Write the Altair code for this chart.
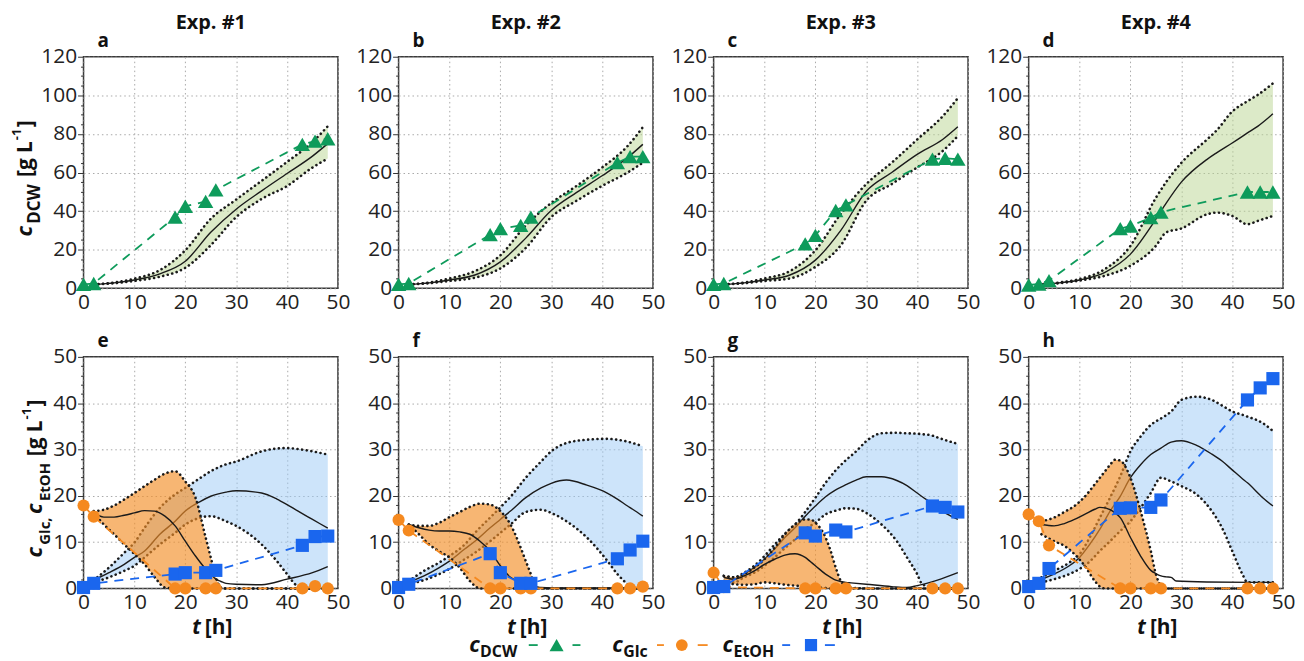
import altair as alt
import pandas as pd

# ---------------- measured data ----------------
T_MEAS_1 = [0, 2, 18, 20, 24, 26, 43, 45.5, 48]
T_MEAS_4 = [0, 2, 4, 18, 20, 24, 26, 43, 45.5, 48]

DCW_MEAS_1 = [2.0, 2.5, 36.9, 42.5, 45.0, 51.0, 74.6, 76.3, 77.5]
DCW_MEAS_2 = [2.0, 2.5, 27.8, 30.9, 32.6, 36.9, 65.1, 68.2, 68.2]
DCW_MEAS_3 = [2.0, 2.5, 23.0, 27.4, 40.3, 43.2, 66.9, 67.4, 66.9]
DCW_MEAS_4 = [1.7, 2.2, 4.0, 30.9, 32.3, 36.6, 39.5, 49.9, 49.9, 49.9]

GLC_MEAS_1 = [17.9, 15.5, 0.0, 0.0, 0.0, 0.0, 0.0, 0.5, 0.0]
GLC_MEAS_2 = [14.8, 12.5, 0.0, 0.0, 0.0, 0.0, 0.0, 0.0, 0.4]
GLC_MEAS_3 = [3.4, 0.3, 0.0, 0.0, 0.0, 0.0, 0.0, 0.0, 0.0]
GLC_MEAS_4 = [16.0, 14.5, 9.3, 0.0, 0.0, 0.0, 0.0, 0.0, 0.0, 0.0]

ETOH_MEAS_1 = [0.2, 1.1, 3.1, 3.4, 3.4, 3.9, 9.3, 11.2, 11.3]
ETOH_MEAS_2 = [0.2, 0.9, 7.5, 3.4, 1.1, 1.1, 6.4, 8.3, 10.2]
ETOH_MEAS_3 = [0.2, 0.4, 12.0, 11.3, 12.6, 12.2, 17.8, 17.5, 16.5]
ETOH_MEAS_4 = [0.4, 1.1, 4.3, 17.3, 17.4, 17.5, 19.1, 40.7, 43.3, 45.3]

# ---------------- model (mean and band) ----------------
T_DCW_1 = [2, 6, 10, 15, 20, 25, 30, 35, 40, 45, 48]
DCW_LO_1 = [2.0, 2.6, 3.8, 6.0, 10.6, 22.3, 36.9, 46.3, 53.0, 62.6, 67.2]
DCW_MEAN_1 = [2.0, 2.8, 4.3, 7.5, 14.0, 29.0, 41.0, 50.5, 59.5, 68.5, 75.0]
DCW_HI_1 = [2.0, 3.0, 5.0, 9.4, 19.7, 36.0, 46.0, 55.7, 65.5, 75.8, 84.0]

T_DCW_2 = [2, 6, 10, 15, 20, 25, 30, 35, 40, 45, 48]
DCW_LO_2 = [2.0, 2.6, 3.8, 5.5, 10.3, 20.9, 36.9, 45.4, 53.1, 60.0, 65.1]
DCW_MEAN_2 = [2.0, 2.8, 4.3, 6.9, 13.7, 26.0, 40.3, 49.7, 58.3, 67.7, 74.6]
DCW_HI_2 = [2.0, 3.0, 5.1, 8.9, 17.1, 32.6, 44.2, 53.1, 62.6, 73.7, 83.5]

T_DCW_3 = [2, 6, 10, 15, 20, 25, 30, 35, 40, 45, 48]
DCW_LO_3 = [2.0, 2.6, 3.8, 5.1, 11.1, 22.3, 45.4, 54.0, 62.6, 71.1, 78.9]
DCW_MEAN_3 = [2.0, 2.8, 4.3, 6.9, 14.6, 30.0, 50.3, 60.0, 69.4, 77.1, 83.7]
DCW_HI_3 = [2.0, 3.0, 5.1, 8.9, 19.7, 38.6, 54.0, 65.1, 77.1, 89.1, 98.6]

T_DCW_4 = [2, 6, 10, 15, 20, 25, 27, 30, 35, 37, 40, 43, 45, 48]
DCW_LO_4 = [2.0, 2.6, 4.0, 6.5, 11.7, 22.0, 28.9, 31.0, 38.3, 39.2, 37.5, 33.2, 34.9, 37.5]
DCW_MEAN_4 = [2.0, 2.8, 4.3, 8.3, 17.7, 35.8, 44.0, 55.0, 66.7, 70.3, 75.3, 80.5, 83.9, 90.4]
DCW_HI_4 = [2.0, 3.0, 4.8, 10.0, 22.0, 46.9, 55.0, 65.0, 77.0, 82.0, 91.6, 97.0, 100.2, 106.2]

T_GLC_1 = [2, 4, 6, 8, 10, 12, 14, 16, 18, 20, 22, 24, 25, 26, 27, 28, 30, 35, 40, 45, 48]
GLC_LO_1 = [16.3, 13.8, 11.7, 9.5, 7.4, 5.2, 2.4, 0.2, 0, 0, 0, 0, 0, 0, 0, 0, 0, 0, 0, 0, 0]
GLC_MEAN_1 = [16.3, 15.4, 15.4, 15.8, 16.3, 16.8, 16.7, 15.6, 13.5, 10.2, 7.0, 4.2, 3.1, 2.0, 1.5, 1.1, 0.9, 0.8, 2.0, 3.4, 4.7]
GLC_HI_1 = [16.7, 17.0, 17.9, 19.2, 20.6, 22.1, 23.5, 24.8, 25.3, 23.1, 19.6, 11.0, 6.7, 2.4, 0.2, 0, 0, 0, 0, 0, 0]

T_ETOH_1 = [2, 5, 8, 10, 12, 15, 18, 20, 23, 25, 28, 30, 35, 38, 40, 42, 45, 48]
ETOH_LO_1 = [1.3, 2.4, 3.8, 4.9, 6.7, 9.5, 12.0, 13.8, 15.3, 15.6, 14.5, 13.5, 9.5, 5.9, 3.1, 0.6, 0, 0]
ETOH_MEAN_1 = [1.8, 3.4, 5.2, 6.7, 8.1, 11.7, 14.5, 16.7, 18.8, 19.9, 20.8, 21.1, 20.6, 19.3, 18.1, 16.8, 14.9, 13.0]
ETOH_HI_1 = [1.8, 4.5, 7.7, 9.9, 13.1, 17.4, 20.3, 21.7, 23.9, 25.3, 26.8, 27.4, 29.6, 30.2, 30.3, 30.1, 29.6, 28.9]

T_GLC_2 = [2, 4, 6, 8, 10, 12, 14, 16, 18, 20, 22, 24, 25, 26, 27, 28, 30, 35, 40, 48]
GLC_LO_2 = [13.8, 11.7, 9.5, 8.0, 6.7, 4.5, 1.6, 0, 0, 0, 0, 0, 0, 0, 0, 0, 0, 0, 0, 0]
GLC_MEAN_2 = [13.8, 13.1, 12.6, 12.4, 12.4, 12.2, 11.7, 10.2, 8.1, 4.9, 2.4, 1.3, 0.9, 0.6, 0.4, 0.2, 0.1, 0.1, 0.1, 0.1]
GLC_HI_2 = [13.8, 13.5, 13.5, 14.2, 15.4, 16.5, 17.6, 18.3, 18.1, 16.7, 13.8, 8.8, 5.9, 3.1, 0.2, 0, 0, 0, 0, 0]

T_ETOH_2 = [2, 5, 8, 10, 13, 15, 18, 20, 22, 25, 28, 30, 33, 37, 41, 43, 45, 46, 48]
ETOH_LO_2 = [0.9, 1.8, 3.1, 4.2, 6.3, 7.7, 10.2, 12.0, 13.8, 16.5, 17.0, 16.3, 14.5, 11.0, 6.0, 3.1, 0.9, 0, 0]
ETOH_MEAN_2 = [1.3, 2.7, 4.5, 5.9, 8.5, 10.2, 13.1, 14.9, 16.7, 19.6, 21.7, 22.7, 23.4, 22.3, 20.6, 19.3, 17.8, 17.1, 15.6]
ETOH_HI_2 = [1.6, 3.8, 5.6, 7.0, 9.5, 12.0, 15.3, 17.5, 19.8, 23.9, 27.4, 29.6, 31.4, 32.1, 32.3, 32.1, 31.7, 31.4, 30.7]

T_GLC_3 = [2, 4, 6, 8, 10, 12, 14, 16, 18, 19, 20, 22, 23, 24, 25, 26, 27, 30, 35, 38, 40, 44, 48]
GLC_LO_3 = [1.6, 0.9, 0.8, 0.9, 1.3, 1.1, 0.8, 0.6, 0.4, 0.3, 0.2, 0.1, 0, 0, 0, 0, 0, 0, 0, 0, 0, 0, 0]
GLC_MEAN_3 = [2.4, 2.0, 2.7, 3.8, 5.2, 6.3, 7.2, 7.5, 6.7, 5.8, 4.9, 3.1, 2.4, 1.8, 1.5, 1.3, 1.2, 0.9, 0.4, 0.2, 0.6, 1.8, 3.4]
GLC_HI_3 = [2.7, 2.4, 3.1, 4.5, 6.3, 8.8, 11.7, 13.8, 14.9, 14.9, 14.2, 11.0, 8.1, 4.5, 1.6, 0.6, 0.2, 0, 0, 0, 0, 0, 0]

T_ETOH_3 = [2, 4, 6, 8, 10, 12, 14, 16, 18, 20, 22, 24, 26, 28, 30, 33, 36, 38, 40, 41, 43, 44, 48]
ETOH_LO_3 = [1.3, 1.3, 2.4, 3.4, 4.9, 6.7, 8.7, 10.6, 12.8, 14.2, 16.0, 16.8, 17.3, 17.2, 16.3, 13.8, 10.2, 6.7, 3.1, 0.9, 0.2, 0, 0]
ETOH_MEAN_3 = [2.4, 2.0, 3.1, 4.5, 6.3, 8.5, 11.0, 13.1, 15.6, 17.8, 19.8, 21.3, 22.4, 23.4, 24.1, 24.1, 23.3, 22.2, 20.6, 19.8, 18.3, 17.4, 14.9]
ETOH_HI_3 = [2.7, 2.4, 3.4, 4.9, 7.0, 9.5, 11.8, 13.8, 16.5, 19.6, 22.8, 25.5, 27.7, 29.6, 31.8, 33.5, 33.6, 33.5, 33.4, 33.3, 33.0, 32.6, 31.2]

T_GLC_4 = [2.5, 5, 7, 9, 11, 13, 14, 15, 16, 17, 18, 20, 22, 24, 25, 26, 27, 28, 29, 35, 48]
GLC_LO_4 = [11.7, 10.2, 9.2, 7.4, 4.9, 1.6, 0.4, 0, 0, 0, 0, 0, 0, 0, 0, 0, 0, 0, 0, 0, 0]
GLC_MEAN_4 = [13.8, 13.5, 14.0, 14.9, 16.0, 17.1, 17.5, 17.4, 17.0, 16.3, 15.3, 11.0, 7.0, 3.9, 3.2, 2.7, 2.5, 2.4, 1.6, 1.4, 1.3]
GLC_HI_4 = [14.5, 15.3, 16.5, 17.8, 19.8, 22.5, 23.9, 25.3, 26.7, 27.8, 27.6, 23.9, 16.7, 8.1, 3.1, 0.6, 0, 0, 0, 0, 0]

T_ETOH_4 = [2.5, 5, 8, 10, 12, 14, 16, 18, 20, 22, 24, 26, 28, 30, 33, 36, 38, 40, 42, 43, 46, 48]
ETOH_LO_4 = [1.3, 2.0, 3.1, 4.2, 5.8, 8.1, 10.2, 12.4, 14.5, 17.4, 20.6, 23.9, 23.1, 22.1, 20.3, 16.7, 13.1, 8.1, 3.1, 1.3, 1.3, 1.3]
ETOH_MEAN_4 = [2.0, 3.1, 4.9, 6.7, 9.5, 12.8, 16.7, 19.9, 23.9, 26.7, 28.9, 30.3, 31.6, 31.9, 30.9, 29.0, 27.5, 25.6, 23.7, 22.8, 19.6, 17.8]
ETOH_HI_4 = [2.4, 3.8, 5.6, 7.4, 11.0, 15.3, 19.6, 24.2, 29.6, 32.8, 35.3, 36.7, 38.2, 40.7, 41.4, 40.7, 39.5, 38.2, 37.5, 37.1, 35.7, 34.0]

# ---------------- labels / ticks ----------------
EXP_TITLES = ["Exp. #1", "Exp. #2", "Exp. #3", "Exp. #4"]
TOP_LETTERS = ["a", "b", "c", "d"]
BOT_LETTERS = ["e", "f", "g", "h"]
X_TICKS = [0, 10, 20, 30, 40, 50]
Y_TOP_TICKS = list(range(0, 121, 5))
Y_BOT_TICKS = list(range(0, 51, 2))

# ---------------- style ----------------
W, H = 256, 233
FONT = "Open Sans"
GREEN = "#0e9b5b"
ORANGE = "#f5891f"
BLUE = "#1a66ee"
GREEN_FILL = "#b9d591"
BLUE_FILL = "#9bc9f5"
ORANGE_FILL = "#f38f28"
INK = "#1a1a1a"
DOT = [0.1, 4.6]
GRID = "#a8a8a8"
LBL = 21
ONE = pd.DataFrame({"k": [0]})

XSCALE = alt.Scale(domain=[0, 50], nice=False)


def xaxis():
    return alt.Axis(values=X_TICKS, title=None, grid=True, gridDash=[1.5, 3], gridColor=GRID,
                    ticks=False, domain=False, labelFontSize=LBL, labelPadding=3,
                    labelFlush=False, labelOverlap=False, labelColor="#222")


def yaxis(ticks, major):
    test = f"datum.value % {major} === 0"
    return alt.Axis(values=ticks, title=None, grid=True, gridDash=[1.5, 3], gridColor=GRID,
                    gridOpacity={"condition": {"test": test, "value": 1}, "value": 0},
                    tickSize={"condition": {"test": test, "value": 6}, "value": 3},
                    tickColor="#333", domain=False, labelFontSize=LBL, labelPadding=1,
                    labelExpr=f"{test} ? datum.label : ''",
                    labelFlush=False, labelOverlap=False, labelColor="#222")


def enc_x():
    return alt.X("t:Q", scale=XSCALE, axis=xaxis())


def enc_y(field, ymax, ticks, major):
    return alt.Y(f"{field}:Q", scale=alt.Scale(domain=[0, ymax], nice=False), axis=yaxis(ticks, major))


def txt(s, x, y, size, style="normal", angle=0, align="left"):
    return alt.Chart(ONE).mark_text(text=s, fontSize=size, fontStyle=style, fontWeight="bold",
                                    angle=angle, align=align, baseline="alphabetic",
                                    font=FONT, color="#111").encode(x=alt.value(x), y=alt.value(y))


def dash(x1, x2, y, color):
    return alt.Chart(ONE).mark_rule(color=color, strokeWidth=1.8).encode(
        x=alt.value(x1), x2=alt.value(x2), y=alt.value(y))


def sym(x, y, shape, size, color):
    return alt.Chart(ONE).mark_point(shape=shape, filled=True, size=size, color=color, opacity=1).encode(
        x=alt.value(x), y=alt.value(y))


def band_layers(t, lo, mean, hi, fill, fill_op, ymax, ticks, major):
    df = pd.DataFrame({"t": t, "lo": lo, "mean": mean, "hi": hi})
    base = alt.Chart(df)
    area = base.mark_area(color=fill, opacity=fill_op, interpolate="monotone").encode(
        x=enc_x(), y=enc_y("lo", ymax, ticks, major), y2="hi:Q")
    lines = []
    for f in ["lo", "hi"]:
        lines.append(base.mark_line(color=INK, strokeDash=DOT, strokeWidth=2.6, strokeCap="round",
                                    interpolate="monotone").encode(x=enc_x(), y=enc_y(f, ymax, ticks, major)))
    mean_line = base.mark_line(color=INK, strokeWidth=1.4, interpolate="monotone").encode(
        x=enc_x(), y=enc_y("mean", ymax, ticks, major))
    return [area] + lines + [mean_line]


def meas_layers(t, v, color, shape, size, ymax, ticks, major):
    df = pd.DataFrame({"t": t, "v": v})
    base = alt.Chart(df)
    line = base.mark_line(color=color, strokeDash=[9, 7], strokeWidth=1.8).encode(
        x=enc_x(), y=enc_y("v", ymax, ticks, major))
    pts = base.mark_point(shape=shape, filled=True, size=size, color=color, opacity=1).encode(
        x=enc_x(), y=enc_y("v", ymax, ticks, major))
    return [line, pts]


# legend pieces (drawn below panels f and g, positions relative to those plot areas)
LY = H + 57      # marker row
LT = H + 64      # main letter baseline
LS = H + 69      # subscript baseline


def legend_f():
    return [
        txt("c", 71, LT, 22, style="italic"), txt("DCW", 82, LS, 16),
        dash(131, 140, LY, GREEN), sym(159, LY, "triangle-up", 200, GREEN), dash(175, 183, LY, GREEN),
        txt("c", 215, LT, 22, style="italic"), txt("Glc", 226, LS, 16),
        dash(260, 267, LY, ORANGE),
    ]


def legend_g():
    return [
        sym(-32, LY, "circle", 140, ORANGE), dash(-16, -6, LY, ORANGE),
        txt("c", 9, LT, 22, style="italic"), txt("EtOH", 20, LS, 16),
        dash(69, 77, LY, BLUE), sym(98, LY, "square", 150, BLUE), dash(112, 122, LY, BLUE),
    ]


def top_panel(i, t_meas, dcw, t_mod, lo, mean, hi):
    layers = band_layers(t_mod, lo, mean, hi, GREEN_FILL, 0.5, 120, Y_TOP_TICKS, 20)
    layers += meas_layers(t_meas, dcw, GREEN, "triangle-up", 240, 120, Y_TOP_TICKS, 20)
    layers.append(txt(EXP_TITLES[i], W / 2, -28, 20, align="center"))
    layers.append(txt(TOP_LETTERS[i], 14, -10, 19))
    if i == 0:
        layers += [
            txt("c", -52, 181, 22, style="italic", angle=270),
            txt("DCW", -44, 168, 17, angle=270),
            txt("[g L", -52, 121, 21, angle=270),
            txt("-1", -63, 84, 13, angle=270),
            txt("]", -52, 71, 21, angle=270),
        ]
    return alt.layer(*layers).properties(width=W, height=H)


def bottom_panel(i, t_meas, glc, etoh, tg, glo, gmean, ghi, te, elo, emean, ehi):
    layers = band_layers(te, elo, emean, ehi, BLUE_FILL, 0.5, 50, Y_BOT_TICKS, 10)
    layers += band_layers(tg, glo, gmean, ghi, ORANGE_FILL, 0.65, 50, Y_BOT_TICKS, 10)
    layers += meas_layers(t_meas, glc, ORANGE, "circle", 150, 50, Y_BOT_TICKS, 10)
    layers += meas_layers(t_meas, etoh, BLUE, "square", 175, 50, Y_BOT_TICKS, 10)
    layers.append(txt(BOT_LETTERS[i], 14, -10, 19))
    layers.append(txt("t", 118, H + 46, 21, style="italic", align="right"))
    layers.append(txt("[h]", 122, H + 46, 21))
    if i == 0:
        layers += [
            txt("c", -42, 202, 22, style="italic", angle=270),
            txt("Glc,", -34, 189, 15, angle=270),
            txt("c", -42, 158, 22, style="italic", angle=270),
            txt("EtOH", -34, 145, 15, angle=270),
            txt("[g L", -42, 100, 21, angle=270),
            txt("-1", -53, 63, 13, angle=270),
            txt("]", -42, 50, 21, angle=270),
        ]
    if i == 1:
        layers += legend_f()
    if i == 2:
        layers += legend_g()
    return alt.layer(*layers).properties(width=W, height=H)


tops = [
    top_panel(0, T_MEAS_1, DCW_MEAS_1, T_DCW_1, DCW_LO_1, DCW_MEAN_1, DCW_HI_1),
    top_panel(1, T_MEAS_1, DCW_MEAS_2, T_DCW_2, DCW_LO_2, DCW_MEAN_2, DCW_HI_2),
    top_panel(2, T_MEAS_1, DCW_MEAS_3, T_DCW_3, DCW_LO_3, DCW_MEAN_3, DCW_HI_3),
    top_panel(3, T_MEAS_4, DCW_MEAS_4, T_DCW_4, DCW_LO_4, DCW_MEAN_4, DCW_HI_4),
]
bots = [
    bottom_panel(0, T_MEAS_1, GLC_MEAS_1, ETOH_MEAS_1, T_GLC_1, GLC_LO_1, GLC_MEAN_1, GLC_HI_1,
                 T_ETOH_1, ETOH_LO_1, ETOH_MEAN_1, ETOH_HI_1),
    bottom_panel(1, T_MEAS_1, GLC_MEAS_2, ETOH_MEAS_2, T_GLC_2, GLC_LO_2, GLC_MEAN_2, GLC_HI_2,
                 T_ETOH_2, ETOH_LO_2, ETOH_MEAN_2, ETOH_HI_2),
    bottom_panel(2, T_MEAS_1, GLC_MEAS_3, ETOH_MEAS_3, T_GLC_3, GLC_LO_3, GLC_MEAN_3, GLC_HI_3,
                 T_ETOH_3, ETOH_LO_3, ETOH_MEAN_3, ETOH_HI_3),
    bottom_panel(3, T_MEAS_4, GLC_MEAS_4, ETOH_MEAS_4, T_GLC_4, GLC_LO_4, GLC_MEAN_4, GLC_HI_4,
                 T_ETOH_4, ETOH_LO_4, ETOH_MEAN_4, ETOH_HI_4),
]

chart = alt.concat(*(tops + bots), columns=4, spacing={"row": 18, "column": 4}).properties(
    padding={"left": 2, "top": 2, "right": 0, "bottom": 0}
).configure_view(stroke="#3a3a3a", strokeWidth=1.5).configure_axis(labelFont=FONT)

chart.save("out.html", embed_options={"renderer": "svg", "actions": False})
